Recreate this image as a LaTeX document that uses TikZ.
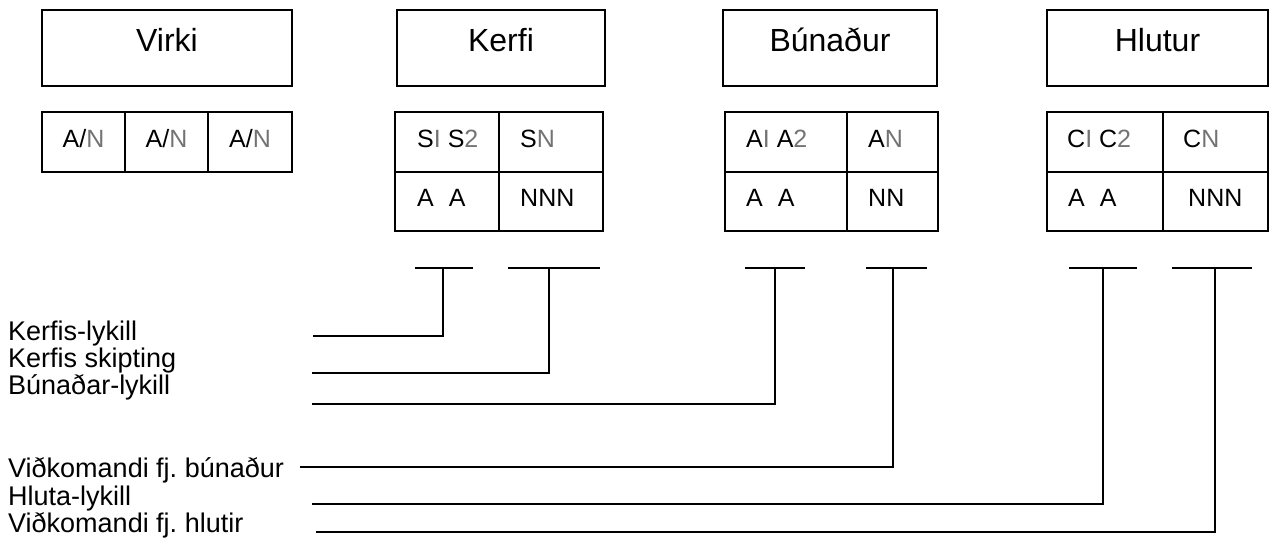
\documentclass[tikz,border=0pt]{standalone}
\usepackage{fontspec}
\setmainfont{Liberation Sans}
\frenchspacing
\newcommand{\thn}[1]{{\color{black!55}#1}}
\begin{document}
\begin{tikzpicture}[x=1pt,y=-1pt,
  box/.style={draw, line width=1.5pt, inner sep=0pt},
  grid/.style={line width=1.5pt},
  ttl/.style={font=\fontsize{32}{36}\selectfont, anchor=base, inner sep=0pt},
  cellc/.style={font=\fontsize{25}{30}\selectfont, anchor=base, inner sep=0pt},
  cell/.style={font=\fontsize{25}{30}\selectfont, anchor=base west, inner sep=0pt},
  lbl/.style={font=\fontsize{27}{32}\selectfont, anchor=base west, inner sep=0pt},
  wire/.style={line width=1.5pt}]
\useasboundingbox (0,0) rectangle (1269,548);

% title boxes
\node[box, minimum width=250pt, minimum height=76pt] (virkiB) at (167,48) {};
\node[box, minimum width=208pt, minimum height=76pt] (kerfiB) at (501,48) {};
\node[box, minimum width=214pt, minimum height=76pt] (bunB) at (830,48) {};
\node[box, minimum width=221pt, minimum height=76pt] (hlutB) at (1157.5,48) {};
\node[ttl] (virkiT) at (167,52) {Virki};
\node[ttl] (kerfiT) at (501,52) {Kerfi};
\node[ttl] (bunT) at (830,52) {Búnaður};
\node[ttl] (hlutT) at (1157.5,52) {Hlutur};

% Virki cells
\draw[grid] (42,112) rectangle (292,172);
\draw[grid] (125,112) -- (125,172) (208,112) -- (208,172);
\node[cellc] (v1) at (83.5,148) {A/\thn{N}};
\node[cellc] (v2) at (166.5,148) {A/\thn{N}};
\node[cellc] (v3) at (250,148) {A/\thn{N}};

% Kerfi table
\draw[grid] (395,112) rectangle (603,231);
\draw[grid] (499,112) -- (499,231) (395,172) -- (603,172);
\node[cell] (k1) at (417,148) {S\thn{I} S\thn{2}};
\node[cell] (k2) at (520,148) {S\thn{N}};
\node[cell] (k3) at (417,207) {A\hspace{15pt}A};
\node[cell] (k4) at (520,207) {NNN};

% Bunadur table
\draw[grid] (725,112) rectangle (938,231);
\draw[grid] (847,112) -- (847,231) (725,172) -- (938,172);
\node[cell] (b1) at (746,148) {A\thn{I} A\thn{2}};
\node[cell] (b2) at (868,148) {A\thn{N}};
\node[cell] (b3) at (746,207) {A\hspace{15pt}A};
\node[cell] (b4) at (868,207) {NN};

% Hlutur table
\draw[grid] (1047,112) rectangle (1268,231);
\draw[grid] (1163,112) -- (1163,231) (1047,172) -- (1268,172);
\node[cell] (h1) at (1067,148) {C\thn{I} C\thn{2}};
\node[cell] (h2) at (1183,148) {C\thn{N}};
\node[cell] (h3) at (1068,207) {A\hspace{15pt}A};
\node[cell] (h4) at (1188,207) {NNN};

% labels
\node[lbl] (l1) at (8,340) {Kerfis-lykill};
\node[lbl] (l2) at (8,367) {Kerfis skipting};
\node[lbl] (l3) at (8,394) {Búnaðar-lykill};
\node[lbl] (l4) at (8,477) {Viðkomandi fj. búnaður};
\node[lbl] (l5) at (8,505) {Hluta-lykill};
\node[lbl] (l6) at (8,532) {Viðkomandi fj. hlutir};

% T bars
\coordinate (t1a) at (415,268); \coordinate (t1b) at (473,268); \coordinate (t1) at (443,268);
\coordinate (t2a) at (508,268); \coordinate (t2b) at (600,268); \coordinate (t2) at (549,268);
\coordinate (t3a) at (745,268); \coordinate (t3b) at (805,268); \coordinate (t3) at (775,268);
\coordinate (t4a) at (866,268); \coordinate (t4b) at (927,268); \coordinate (t4) at (893,268);
\coordinate (t5a) at (1069,268); \coordinate (t5b) at (1137,268); \coordinate (t5) at (1103,268);
\coordinate (t6a) at (1172,268); \coordinate (t6b) at (1252,268); \coordinate (t6) at (1215,268);
% line starts
\coordinate (s1) at (313,336);
\coordinate (s2) at (312,373);
\coordinate (s3) at (312,404);
\coordinate (s4) at (300,467);
\coordinate (s5) at (312,504);
\coordinate (s6) at (316,532);

\foreach \i in {1,...,6}{
  \draw[wire] (t\i a) -- (t\i b);
  \draw[wire] (t\i) |- (s\i);
}
\end{tikzpicture}
\end{document}
